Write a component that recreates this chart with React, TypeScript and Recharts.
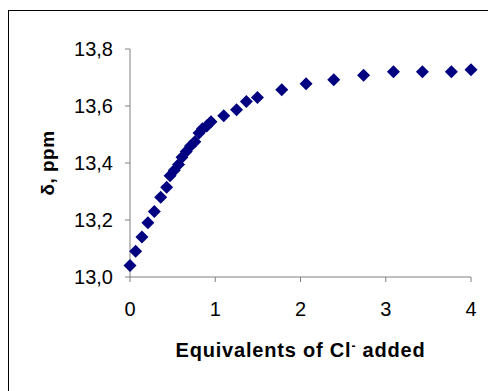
import { ScatterChart, Scatter, XAxis, YAxis, Label } from "recharts"

const equivalents = [
  0, 0.066, 0.14, 0.21, 0.285, 0.36, 0.43, 0.47, 0.52, 0.57, 0.61, 0.66, 0.71, 0.76, 0.81, 0.85,
  0.9, 0.95, 1.1, 1.25, 1.365, 1.495, 1.78, 2.065, 2.39, 2.74, 3.09, 3.43, 3.77, 4.0,
]
const shifts = [
  13.04, 13.09, 13.14, 13.19, 13.23, 13.28, 13.315, 13.355, 13.375, 13.395, 13.42, 13.44, 13.46,
  13.475, 13.505, 13.52, 13.53, 13.545, 13.566, 13.587, 13.616, 13.63, 13.657, 13.678, 13.692,
  13.708, 13.72, 13.72, 13.72, 13.727,
]
const xTicks = [0, 1, 2, 3, 4]
const yTicks = [13.0, 13.2, 13.4, 13.6, 13.8]

const data = equivalents.map((x, i) => ({ x, y: shifts[i] }))

const font = "'Liberation Sans', Arial, sans-serif"

const Diamond = (props: any) => {
  const { cx, cy } = props
  const r = 6.5
  return (
    <polygon
      points={`${cx},${cy - r} ${cx + r},${cy} ${cx},${cy + r} ${cx - r},${cy}`}
      fill="#000080"
    />
  )
}

export default function App() {
  return (
    <div style={{ paddingTop: 2 }}>
      <div style={{ width: 486, height: 400, border: "1px solid #000", position: "relative" }}>
        <ScatterChart
          width={486}
          height={380}
          margin={{ top: 38, right: 24, bottom: 54, left: 0 }}
          style={{ fontFamily: font }}
        >
          <XAxis
            type="number"
            dataKey="x"
            domain={[0, 4]}
            ticks={xTicks}
            axisLine={{ stroke: "#808080" }}
            tickLine={{ stroke: "#808080" }}
            tickSize={5}
            tickMargin={20}
            tick={{ fill: "#000", fontSize: 20 }}
            height={60}
          >
            <Label
              content={(p: any) => {
                const vb = p.viewBox
                return (
                  <text
                    x={vb.x + vb.width / 2}
                    y={vb.y + 80}
                    textAnchor="middle"
                    fontSize={20}
                    fontWeight="bold"
                    letterSpacing={0.8}
                    fill="#000"
                  >
                    Equivalents of Cl
                    <tspan dy={-7} fontSize={12}>-</tspan>
                    <tspan dy={7}> added</tspan>
                  </text>
                )
              }}
            />
          </XAxis>
          <YAxis
            type="number"
            dataKey="y"
            domain={[13, 13.8]}
            ticks={yTicks}
            axisLine={{ stroke: "#808080" }}
            tickLine={{ stroke: "#808080" }}
            tickSize={5}
            tickMargin={12}
            tick={{ fill: "#000", fontSize: 20 }}
            tickFormatter={(v: number) => v.toFixed(1).replace(".", ",")}
            width={121}
          >
            <Label
              content={(p: any) => {
                const vb = p.viewBox
                const cx = 38
                const cy = vb.y + vb.height / 2
                return (
                  <text
                    x={cx}
                    y={cy}
                    transform={`rotate(-90 ${cx} ${cy})`}
                    textAnchor="middle"
                    dominantBaseline="central"
                    fontSize={19}
                    fontWeight="bold"
                    letterSpacing={0.5}
                    fill="#000"
                  >
                    δ, ppm
                  </text>
                )
              }}
            />
          </YAxis>
          <Scatter data={data} shape={Diamond} isAnimationActive={false} />
        </ScatterChart>
      </div>
    </div>
  )
}
